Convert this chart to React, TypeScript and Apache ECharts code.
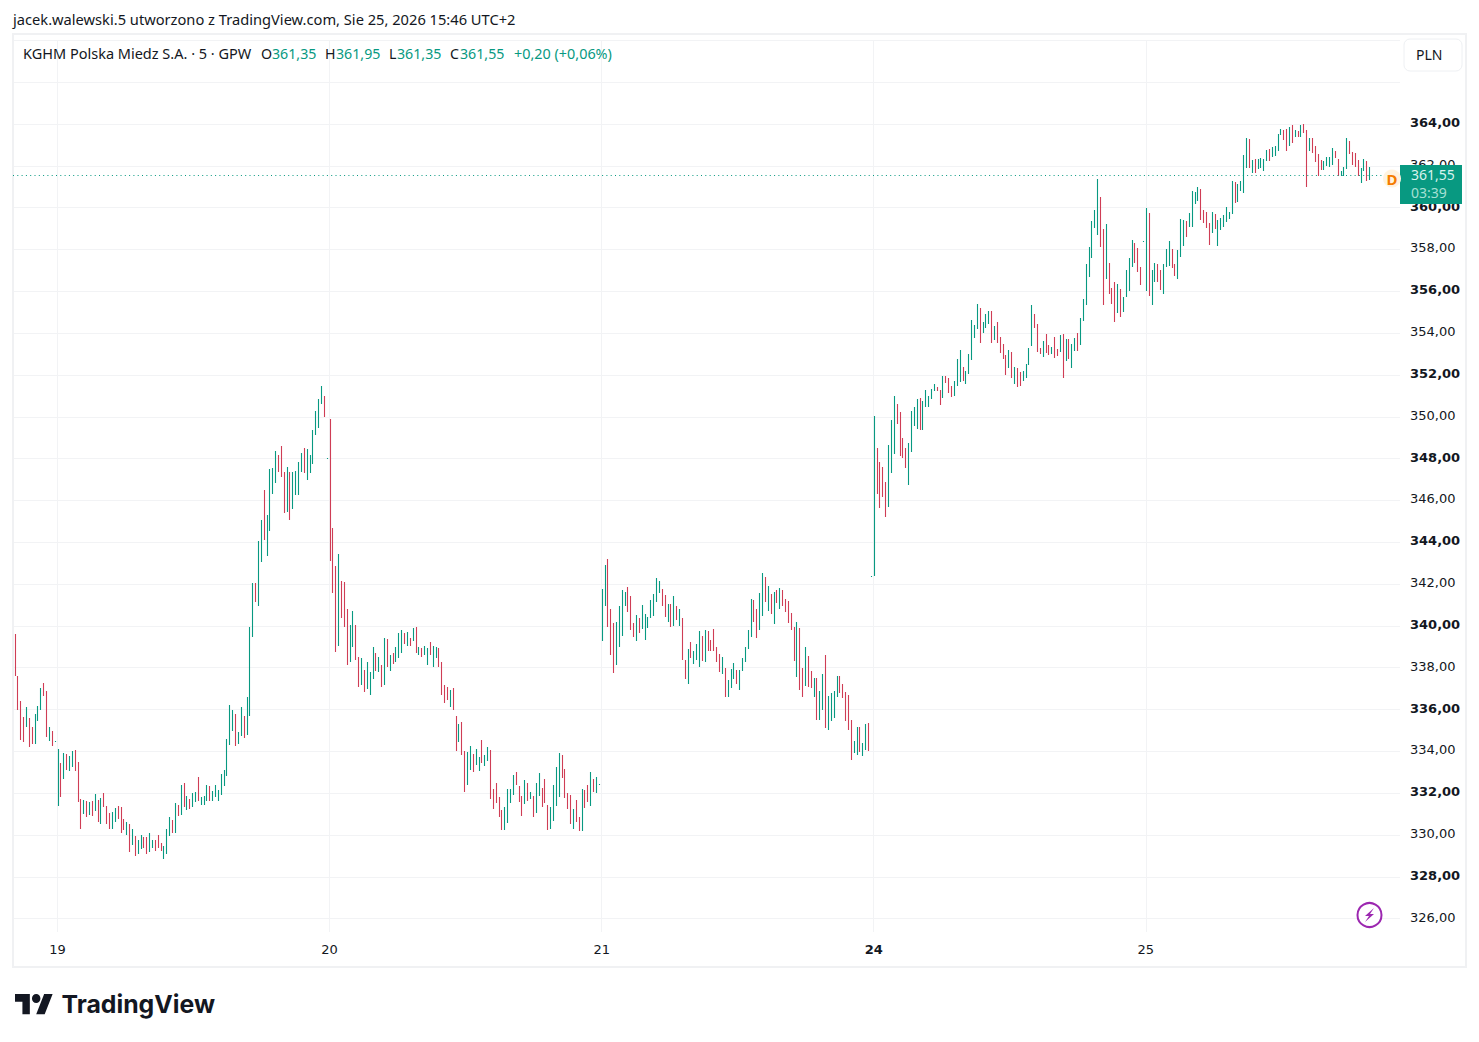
import React, { useEffect, useRef } from "react";
import * as echarts from "echarts";

// ---------- data ----------
const prevHighs = [339.62,337.6,336.41,335.65,336.11,335.6,335.17,335.79,336.17,337.02,337.27,336.89,335.17,334.98,334.5];
const prevLows = [337.62,335.98,334.55,334.47,335.18,334.23,334.37,334.35,335.47,336.0,336.67,334.7,334.51,334.27,334.45];
const prevDirs = "RRRRGRRGGG RRGRG";

const day19Highs = [334.1,333.43,333.91,333.86,333.78,334.02,334.07,333.49,331.72,331.67,
  331.63,331.58,331.63,331.96,331.67,331.79,332.01,331.39,331.07,331.1,
  331.29,331.39,331.34,330.77,330.62,330.53,330.29,329.95,329.76,330.0,
  329.9,329.9,330.1,329.76,329.76,330.0,329.62,329.47,330.29,330.86,
  330.72,331.53,331.44,332.39,332.47,331.87,331.72,332.01,332.06,332.78,
  331.82,331.87,332.39,332.34,332.11,332.39,332.15,332.92,333.11,334.59,
  336.22,335.98,335.79,334.93,336.13,335.69,336.6,339.95,342.07,342.03,
  344.08,345.04,346.52,345.28,347.48,347.53,348.34,348.15,348.58,347.38,
  347.62,347.34,347.34,347.43,347.82,348.29,348.53,348.48,348.15,349.39,
  350.3,350.83,351.45,350.97,348.05];
const day19Lows = [331.4,331.83,332.7,333.11,333.08,333.25,333.06,331.6,330.29,331.02,
  330.88,330.96,330.93,331.16,330.6,330.54,331.34,330.53,330.29,330.29,
  330.64,330.77,330.1,330.24,330.0,329.2,329.52,329.0,329.09,329.33,
  329.36,329.09,329.19,329.38,329.23,329.38,329.23,328.85,329.09,329.95,
  330.1,330.1,330.93,330.96,331.34,331.2,331.24,331.34,331.58,331.63,
  331.44,331.44,331.63,331.63,331.63,331.82,331.63,331.91,332.34,332.82,
  334.31,334.98,334.26,334.35,334.74,334.64,334.79,335.69,339.46,341.12,
  340.97,343.05,344.13,343.33,344.53,346.33,346.81,347.34,347.1,345.42,
  345.47,345.04,345.57,346.28,346.28,347.34,347.29,347.0,347.29,347.72,
  349.15,349.44,350.59,349.97,348.0];
const day19Dirs = "GRGRGGRRRG RGRGRGRRRG GRRRGRGRGG RRGGRRRGGG RGRGRGRGGR GGGRGGGGGG GGRGGRGGGR GGRGGGGRRR GRGGGGRGGG GGGRG";

const day20Highs = [349.87,344.7,342.84,343.46,342.17,342.12,340.83,340.02,340.73,340.02,
  338.49,338.44,337.91,338.25,337.81,339.01,338.72,338.53,338.15,339.44,
  339.35,338.63,338.68,339.01,339.68,339.78,339.68,339.73,339.44,339.92,
  339.97,339.01,338.96,339.06,338.92,339.25,339.06,339.01,338.92,338.25,
  337.19,337.1,336.95,337.05,335.7,335.32,335.41,334.03,333.98,334.27,
  333.88,334.12,333.74,334.55,333.83,334.22,334.07,332.21,332.49,331.82,
  331.2,331.35,332.21,332.21,332.88,333.02,332.35,331.87,332.64,332.49,
  332.06,331.87,332.49,332.97,332.26,332.69,331.44,331.35,332.4,333.26,
  333.93,333.83,333.16,332.02,331.92,331.25,331.68,330.87,332.21,332.16,
  332.4,333.02,332.69,332.78,332.45];
const day20Lows = [343.09,341.55,338.77,339.06,340.4,339.97,338.15,338.25,339.01,338.39,
  337.1,337.19,336.86,337.0,336.71,337.48,337.86,337.81,337.1,337.15,
  338.05,337.86,338.2,338.25,338.48,338.72,339.15,339.06,339.06,339.3,
  338.72,338.63,338.53,338.63,338.15,338.63,338.01,338.44,338.01,336.71,
  336.33,336.47,336.14,336.0,334.0,334.46,333.83,332.06,332.4,333.12,
  333.02,333.36,333.07,333.45,333.31,333.55,331.73,331.25,331.54,330.87,
  330.25,330.25,330.58,331.54,331.92,332.4,331.59,330.92,331.49,331.63,
  331.73,330.87,331.06,331.87,331.35,331.54,330.25,330.29,330.68,331.39,
  331.82,332.73,331.78,331.25,330.53,330.29,330.63,330.2,330.2,331.3,
  331.59,331.39,332.06,332.02,332.4];
const day20Dirs = "RRRGRRRGGR RGRGGGRGRG RGRGGGRGRG RGRGGRGGRR RRGRRGRRGG RGGRGGRRRR RGGGGRRRGR GRGGRRRGGG GRRRRGRRGR RGRGG";

const day21Highs = [341.78,342.93,343.21,340.82,340.15,340.2,340.96,341.73,341.63,341.87,
  341.44,340.15,340.53,340.39,341.01,340.58,340.44,341.25,341.54,342.3,
  342.16,341.78,341.49,341.06,341.06,341.44,340.96,340.82,340.39,338.38,
  338.91,339.24,338.81,339.15,339.77,339.53,339.82,339.77,339.34,339.86,
  339.0,338.67,338.52,338.0,337.42,337.95,338.24,337.9,337.9,338.48,
  339.0,339.82,341.3,341.25,340.82,341.59,342.54,342.35,341.92,341.54,
  341.63,341.73,341.82,341.73,341.3,341.2,340.63,339.96,340.2,339.91,
  338.0,339.0,338.57,337.85,337.52,337.52,336.9,337.71,338.62,336.66,
  336.8,336.9,337.61,337.61,337.23,336.85,336.71,335.51,334.5,335.17,
  335.17,334.41,335.32,335.37,342.38];
const day21Lows = [339.29,340.96,339.96,338.62,337.76,338.14,339.0,339.53,340.96,340.68,
  339.82,339.48,339.29,339.67,339.86,339.34,339.91,340.39,340.48,341.15,
  341.59,340.96,340.44,340.2,339.96,340.0,340.29,340.0,338.38,337.47,
  337.23,338.48,338.19,338.38,338.04,338.33,338.28,338.81,338.81,338.81,
  338.28,337.81,337.71,336.61,336.61,337.04,337.47,337.23,336.94,337.85,
  338.28,338.91,339.48,340.2,339.43,339.82,340.48,341.15,340.72,340.58,
  340.1,341.11,340.82,340.96,340.68,340.15,339.82,338.33,337.57,336.94,
  336.61,337.14,337.09,337.04,336.61,335.51,335.51,335.99,335.13,335.03,
  335.46,335.6,336.61,336.8,336.56,335.46,335.03,333.6,333.93,333.83,
  333.98,333.79,334.07,334.03,342.33];
const day21Dirs = "GGRRRGGGGR RRGRGGGGGG GRRGRGRGRR GRGGGRGRRR RRGRGGGRGG GGGRRGGRGR GRGRRRRRGR RGRRGRGGRG GGGRRRRRGG RGGRG";

const day24Highs = [350.04,348.5,347.83,347.6,346.88,348.65,349.84,351.0,350.61,350.23,
  348.98,348.5,348.74,350.27,350.47,350.85,350.9,350.75,351.28,350.99,
  351.33,351.57,351.42,351.28,351.95,351.95,351.85,351.47,351.71,352.76,
  353.19,352.38,352.19,353.0,354.63,354.39,355.39,355.2,354.53,354.92,
  355.06,355.06,354.34,354.53,353.82,353.48,352.95,353.19,353.1,352.38,
  352.33,352.14,352.19,352.52,353.29,355.35,354.92,354.44,353.29,353.62,
  353.96,353.43,353.34,353.82,353.24,353.91,353.96,353.72,353.72,353.48,
  353.77,354.0,354.72,355.63,357.29,358.1,359.35,359.87,361.36,360.49,
  358.96,359.2,357.34,356.14,356.43,356.33,356.09,355.71,357.0,357.58,
  358.44,358.29,358.05,357.15,358.39];
const day24Lows = [342.38,346.3,345.63,346.16,345.2,345.68,347.31,348.22,349.65,348.12,
  348.03,347.55,346.73,348.31,349.56,349.41,349.37,349.37,350.47,350.47,
  350.85,351.23,351.23,350.56,350.9,351.61,351.14,350.94,350.99,351.47,
  351.66,351.71,351.57,352.04,352.71,353.77,354.2,353.53,354.0,354.25,
  354.44,353.53,353.67,353.53,353.05,352.76,352.0,352.33,351.85,351.57,
  351.42,351.47,351.71,351.85,352.48,353.38,354.25,353.1,353.0,352.86,
  353.05,352.95,353.0,352.81,352.9,353.1,351.85,352.67,352.76,352.33,
  353.15,353.15,353.43,354.58,355.33,356.67,357.58,359.01,358.68,358.1,
  355.33,356.57,355.85,355.37,354.51,354.94,354.75,354.99,355.71,356.0,
  357.15,357.34,356.91,356.28,358.34];
const day24Dirs = "GRRRRGGGRR RRGGGGRGGG GGRRGRRRGG GRGGGGGRGG GRGRRRRGRG RRGGGGRRRG RRGRRGRGRG GRGGGGGGGR RGRRRGRGGG GRRRG";

const day25Highs = [359.97,359.73,357.0,357.34,357.29,357.0,357.29,358.01,358.39,358.01,
  357.29,357.96,359.44,359.39,359.35,359.73,360.78,360.73,360.97,360.88,
  359.87,359.78,359.25,359.78,359.68,359.39,359.49,359.63,360.02,359.78,
  361.26,361.21,361.12,361.27,362.52,363.33,363.28,362.28,362.33,362.33,
  362.37,362.33,362.76,362.8,362.9,362.95,363.52,363.76,363.71,363.76,
  363.86,363.95,363.71,363.67,363.95,364.0,363.71,363.33,363.33,362.95,
  362.56,362.28,362.23,362.42,362.42,362.85,362.71,362.33,361.75,361.94,
  363.33,363.19,362.66,362.61,362.28,361.89,362.33,362.23,361.94];
const day25Lows = [356.0,355.76,355.33,356.43,356.43,356.04,355.85,357.15,357.19,357.1,
  356.71,356.57,357.62,358.15,358.58,359.06,359.06,360.16,360.3,359.39,
  359.25,359.01,358.2,358.77,358.96,358.15,358.92,359.06,359.3,359.44,
  359.68,360.21,360.26,360.79,360.7,361.89,361.89,361.66,361.66,361.85,
  361.89,361.75,362.23,362.23,362.42,362.47,362.71,363.47,363.23,362.71,
  362.95,363.09,363.38,363.38,363.38,363.57,360.99,362.71,362.61,362.18,
  361.51,361.8,361.8,361.99,361.94,362.04,362.37,361.51,361.51,361.51,
  361.85,362.56,362.04,361.94,361.51,361.18,361.75,361.27,361.32];
const day25Dirs = "GRGGRRGGGR RGGGRGGGGR RRRGRGGGGG GRGGGGRGRG GGGRGGGGRR GRGRGRRGRR RRGGGGRRGG GRRRRGGRG";

const dayLabels = ["19", "20", "21", "24", "25"];
const boldDayLabels = ["24"];
const priceTicks = [326,328,330,332,334,336,338,340,342,344,346,348,350,352,354,356,358,360,362,364,366,368];
const lastPrice = 361.55;
const lastPriceText = "361,55";
const countdownText = "03:39";

const headerText = "jacek.walewski.5 utworzono z TradingView.com, Sie 25, 2026 15:46 UTC+2";
const titleText = "KGHM Polska Miedz S.A. · 5 · GPW";
const legendItems = [
  ["O", "361,35", 261, 272],
  ["H", "361,95", 325, 336],
  ["L", "361,35", 389, 397],
  ["C", "361,55", 450, 460],
] as const;
const changeText = "+0,20 (+0,06%)";

const GREEN = "#089981";
const RED = "#cf3d55";
const INK = "#131722";
const GRID = "#f2f3f5";
const AXIS_FONT = "DejaVu Sans";
const TEXT_FONT = "Noto Sans";

const groups = [
  [prevHighs, prevLows, prevDirs],
  [day19Highs, day19Lows, day19Dirs],
  [day20Highs, day20Lows, day20Dirs],
  [day21Highs, day21Lows, day21Dirs],
  [day24Highs, day24Lows, day24Dirs],
  [day25Highs, day25Lows, day25Dirs],
] as [number[], number[], string][];

const bars: [number, number, number, number][] = [];
const dayTicks: number[] = [];
groups.forEach(([hs, ls, ds], g) => {
  const dirs = ds.replace(/\s/g, "");
  if (g > 0) dayTicks.push(bars.length);
  hs.forEach((h, i) => bars.push([bars.length, ls[i], h, dirs[i] === "G" ? 1 : 0]));
});

echarts.graphic.registerShape(
  "tvLogo",
  echarts.graphic.extendPath(
    "M14 22H7V11H0V4h14v18zM28 22h-8l7.5-18h8L28 22zM24 8a4 4 0 1 1-8 0a4 4 0 1 1 8 0z",
    {}
  )
);

const txt = (x: number, y: number, text: string, fill: string, fontSize = 14, extra: any = {}) => ({
  type: "text",
  x,
  y,
  z: 101,
  style: { text, fill, fontSize, fontFamily: TEXT_FONT, textVerticalAlign: "middle", verticalAlign: "middle", ...extra },
});

export default function App() {
  const ref = useRef<HTMLDivElement>(null);
  useEffect(() => {
    const chart = echarts.init(ref.current!, undefined, { renderer: "svg" });
    const option: any = {
      animation: false,
      backgroundColor: "#ffffff",
      grid: { left: 13, right: 79, top: 40.4, bottom: 110 },
      xAxis: {
        type: "value",
        min: -0.54,
        max: 483.75,
        axisLine: { show: false },
        axisTick: { show: false, customValues: dayTicks },
        splitLine: { show: true, lineStyle: { color: GRID, width: 1 } },
        axisLabel: {
          customValues: dayTicks,
          margin: 11,
          color: INK,
          fontFamily: AXIS_FONT,
          fontSize: 13,
          hideOverlap: false,
          formatter: (v: number) => {
            const l = dayLabels[dayTicks.indexOf(v)] ?? "";
            return boldDayLabels.includes(l) ? `{b|${l}}` : l;
          },
          rich: { b: { fontWeight: "bold", fontFamily: AXIS_FONT, fontSize: 13, color: INK } },
        },
      },
      yAxis: {
        type: "value",
        position: "right",
        min: 325.36,
        max: 368,
        axisLine: { show: false },
        axisTick: { show: false, customValues: priceTicks },
        splitLine: { show: true, lineStyle: { color: GRID, width: 1 } },
        axisLabel: {
          customValues: priceTicks.filter((p) => p <= 364),
          margin: 10,
          padding: [0, 0, 3, 0],
          color: INK,
          fontFamily: AXIS_FONT,
          fontSize: 13,
          showMinLabel: true,
          showMaxLabel: true,
          hideOverlap: false,
          formatter: (v: number) => {
            const s = v.toFixed(2).replace(".", ",");
            return v % 4 === 0 ? `{b|${s}}` : s;
          },
          rich: { b: { fontWeight: "bold", fontFamily: AXIS_FONT, fontSize: 13, color: INK } },
        },
      },
      series: [
        {
          type: "custom",
          data: bars,
          encode: { x: 0, y: [1, 2] },
          clip: true,
          silent: true,
          renderItem: (_: any, api: any) => {
            const lo = api.coord([api.value(0), api.value(1)]);
            const hi = api.coord([api.value(0), api.value(2)]);
            const x = Math.round(lo[0]) + 0.5;
            return {
              type: "line",
              shape: { x1: x, y1: Math.round(lo[1]), x2: x, y2: Math.round(hi[1]) },
              style: { stroke: api.value(3) === 1 ? GREEN : RED, lineWidth: 1.1, fill: null },
            };
          },
          markLine: {
            silent: true,
            symbol: "none",
            label: { show: false },
            lineStyle: { color: GREEN, type: [1, 3.3], width: 1.2, opacity: 1 },
            data: [{ yAxis: lastPrice }],
          },
        },
      ],
      graphic: [
        { type: "rect", z: 1, shape: { x: 13, y: 34, width: 1453, height: 933 }, style: { fill: "none", stroke: "#f0f1f3", lineWidth: 2 } },
        txt(13, 19, headerText, INK, 14.67),
        txt(23, 53, titleText, INK, 14.5),
        ...legendItems.flatMap(([k, v, kx, vx]) => [txt(kx, 53, k, INK, 14.2), txt(vx, 53, v, GREEN, 14.2)]),
        txt(514, 53, changeText, GREEN, 14.4),
        { type: "rect", z: 100, shape: { x: 1404, y: 39, width: 58, height: 32, r: 6 }, style: { fill: "#ffffff", stroke: "#eef0f3", lineWidth: 1 } },
        txt(1416, 54, "PLN", INK),
        { type: "rect", z: 100, shape: { x: 1400, y: 165, width: 62, height: 39 }, style: { fill: GREEN } },
        txt(1411, 174, lastPriceText, "#d9f3ee"),
        txt(1411, 192, countdownText, "#a5e0d4"),
        { type: "circle", z: 100, shape: { cx: 1392, cy: 178.5, r: 9 }, style: { fill: "#fff3e0" } },
        txt(1392, 178.5, "D", "#f57c00", 15, { fontWeight: "bold", align: "center", textAlign: "center" }),
        { type: "circle", z: 100, shape: { cx: 1369.5, cy: 915, r: 12 }, style: { fill: "#ffffff", stroke: "#9c27b0", lineWidth: 2 } },
        {
          type: "polygon",
          z: 101,
          shape: { points: [[1374, 908], [1365, 916], [1369, 916], [1365, 922], [1374, 914], [1370, 914]] },
          style: { fill: "#9c27b0" },
        },
        { type: "tvLogo", z: 100, x: 15, y: 989.5, scaleX: 1.06, scaleY: 1.12, style: { fill: INK } },
        txt(61.5, 1004, "TradingView", INK, 24.8, { fontFamily: "Inter", fontWeight: 700 }),
      ],
    };
    chart.setOption(option);
    return () => chart.dispose();
  }, []);
  return (
    <div
      ref={ref}
      style={{ position: "absolute", left: 0, top: 0, width: 1479, height: 1042, background: "#fff" }}
    />
  );
}
